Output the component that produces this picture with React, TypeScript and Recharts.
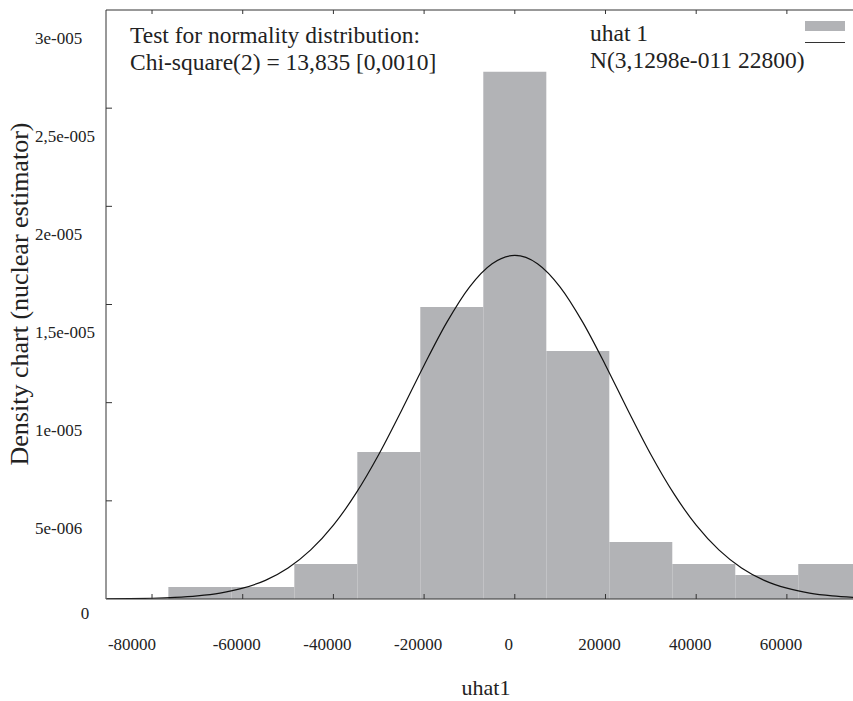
import {
    ComposedChart,
    Line,
    XAxis,
    YAxis,
    ReferenceArea,
    ReferenceLine,
} from "recharts";

// histogram bins of uhat1 (edges + density)
const BIN_EDGES = [
    -76400, -62510, -48620, -34730, -20840, -6950, 6950, 20840, 34730, 48620,
    62510, 76400,
];
const BIN_DENSITY = [
    6.1e-7, 6.1e-7, 1.78e-6, 7.49e-6, 1.487e-5, 2.686e-5, 1.263e-5, 2.9e-6,
    1.78e-6, 1.22e-6, 1.78e-6,
];

// normal curve N(3,1298e-011 22800)
const CURVE_X = [
    -90000, -85000, -80000, -75000, -70000, -65000, -60000, -55000, -50000,
    -45000, -40000, -35000, -30000, -25000, -20000, -15000, -10000, -5000, 0,
    5000, 10000, 15000, 20000, 25000, 30000, 35000, 40000, 45000, 50000, 55000,
    60000, 65000, 70000, 75000,
];
const CURVE_Y = [
    7e-9, 1.7e-8, 3.7e-8, 7.8e-8, 1.57e-7, 3.0e-7, 5.5e-7, 9.5e-7, 1.58e-6,
    2.5e-6, 3.76e-6, 5.39e-6, 7.36e-6, 9.59e-6, 1.191e-5, 1.409e-5, 1.589e-5,
    1.708e-5, 1.75e-5, 1.708e-5, 1.589e-5, 1.409e-5, 1.191e-5, 9.59e-6,
    7.36e-6, 5.39e-6, 3.76e-6, 2.5e-6, 1.58e-6, 9.5e-7, 5.5e-7, 3.0e-7,
    1.57e-7, 7.8e-8,
];

const X_TICKS = [-80000, -60000, -40000, -20000, 0, 20000, 40000, 60000];
const X_TICK_LABELS = [
    "-80000",
    "-60000",
    "-40000",
    "-20000",
    "0",
    "20000",
    "40000",
    "60000",
];
const Y_TICKS = [0, 5e-6, 1e-5, 1.5e-5, 2e-5, 2.5e-5, 3e-5];
const Y_TICK_LABELS = [
    "0",
    "5e-006",
    "1e-005",
    "1,5e-005",
    "2e-005",
    "2,5e-005",
    "3e-005",
];

const X_DOMAIN: [number, number] = [-90150, 74580];
const Y_DOMAIN: [number, number] = [0, 3e-5];

const W = 853;
const H = 701;
const PLOT_LEFT = 106;
const PLOT_TOP = 10;
const PLOT_BOTTOM = 599;
const FONT = "Liberation Serif";
const BAR_FILL = "#b2b3b6";
const AXIS = "#333";

if (typeof document !== "undefined") document.body.style.margin = "0";

const data = CURVE_X.map((x, i) => ({ x, density: CURVE_Y[i] }));

const tickText = { fontFamily: FONT, fontSize: 17, fill: "#222" };

const XTick = (props: any) => {
    const { x, payload, index } = props;
    const label = X_TICK_LABELS[X_TICKS.indexOf(payload.value)];
    const dx = index === 0 ? -20 : -6;
    return (
        <g>
            <line x1={x} x2={x} y1={PLOT_TOP} y2={PLOT_TOP + 4} stroke={AXIS} />
            <line
                x1={x}
                x2={x}
                y1={PLOT_BOTTOM}
                y2={PLOT_BOTTOM - 5}
                stroke={AXIS}
            />
            <text
                x={x + dx}
                y={644}
                textAnchor="middle"
                dominantBaseline="central"
                style={tickText}
            >
                {label}
            </text>
        </g>
    );
};

const YTick = (props: any) => {
    const { y, payload } = props;
    const label = Y_TICK_LABELS[Y_TICKS.indexOf(payload.value)];
    const isZero = payload.value === 0;
    return (
        <g>
            {!isZero && payload.value !== Y_DOMAIN[1] && (
                <line
                    x1={PLOT_LEFT}
                    x2={PLOT_LEFT + 6}
                    y1={y}
                    y2={y}
                    stroke={AXIS}
                />
            )}
            <text
                x={isZero ? 85 : 35}
                y={isZero ? y + 14 : y + 28}
                textAnchor={isZero ? "middle" : "start"}
                dominantBaseline="central"
                style={tickText}
            >
                {label}
            </text>
        </g>
    );
};

const textStyle = (left: number, cy: number, size: number) => ({
    position: "absolute" as const,
    left,
    top: cy - size / 2,
    fontSize: size,
    lineHeight: `${size}px`,
    fontFamily: FONT,
    color: "#222",
    whiteSpace: "nowrap" as const,
});

export default function App() {
    return (
        <div
            style={{
                position: "relative",
                width: W,
                height: H,
                background: "#fff",
                overflow: "hidden",
            }}
        >
            <ComposedChart
                width={W}
                height={H}
                data={data}
                margin={{ top: PLOT_TOP, right: 0, left: 0, bottom: 0 }}
            >
                <XAxis
                    type="number"
                    dataKey="x"
                    domain={X_DOMAIN}
                    ticks={X_TICKS}
                    allowDataOverflow
                    height={H - PLOT_BOTTOM}
                    axisLine={{ stroke: AXIS }}
                    tickLine={false}
                    tick={<XTick />}
                    interval={0}
                />
                <YAxis
                    type="number"
                    domain={Y_DOMAIN}
                    ticks={Y_TICKS}
                    allowDataOverflow
                    width={PLOT_LEFT}
                    axisLine={{ stroke: AXIS }}
                    tickLine={false}
                    tick={<YTick />}
                    interval={0}
                />
                {BIN_DENSITY.map((d, i) => (
                    <ReferenceArea
                        key={i}
                        x1={BIN_EDGES[i]}
                        x2={BIN_EDGES[i + 1]}
                        y1={0}
                        y2={d}
                        fill={BAR_FILL}
                        fillOpacity={1}
                        stroke="none"
                        ifOverflow="hidden"
                    />
                ))}
                <ReferenceLine y={Y_DOMAIN[1]} stroke={AXIS} ifOverflow="visible" />
                <Line
                    type="monotone"
                    dataKey="density"
                    stroke="#111"
                    strokeWidth={1.2}
                    dot={false}
                    activeDot={false}
                    isAnimationActive={false}
                />
            </ComposedChart>

            <div style={textStyle(130, 36, 23.5)}>
                Test for normality distribution:
            </div>
            <div style={textStyle(130, 63, 23.5)}>
                Chi-square(2) = 13,835 [0,0010]
            </div>
            <div style={textStyle(590, 34, 23.5)}>uhat 1</div>
            <div style={textStyle(590, 61, 23.5)}>N(3,1298e-011 22800)</div>
            <div
                style={{
                    position: "absolute",
                    left: 805,
                    top: 21,
                    width: 40,
                    height: 10,
                    background: BAR_FILL,
                }}
            />
            <div
                style={{
                    position: "absolute",
                    left: 805,
                    top: 42,
                    width: 40,
                    height: 1.3,
                    background: "#333",
                }}
            />
            <div
                style={{
                    ...textStyle(0, 688, 22),
                    left: 486,
                    transform: "translateX(-50%)",
                }}
            >
                uhat1
            </div>
            <div
                style={{
                    position: "absolute",
                    left: 20,
                    top: 294,
                    transform: "translate(-50%, -50%) rotate(-90deg)",
                    fontSize: 26,
                    lineHeight: "26px",
                    fontFamily: FONT,
                    color: "#222",
                    whiteSpace: "nowrap",
                }}
            >
                Density chart (nuclear estimator)
            </div>
        </div>
    );
}
